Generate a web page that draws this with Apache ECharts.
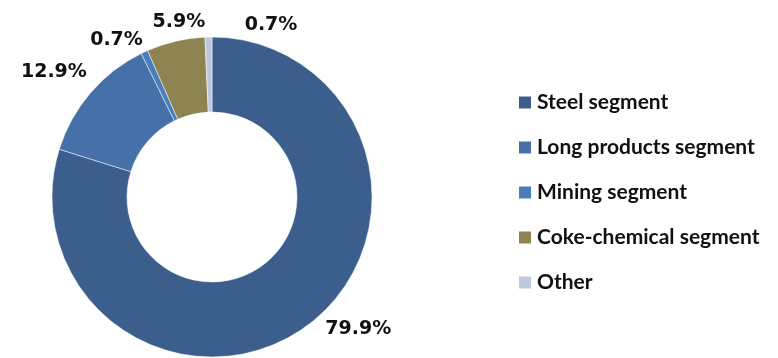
<!DOCTYPE html>
<html>
<head>
<meta charset="utf-8">
<script src="https://cdn.jsdelivr.net/npm/echarts@6/dist/echarts.min.js"></script>
<style>
  html, body { margin: 0; padding: 0; background: #ffffff; }
  #chart { width: 778px; height: 358px; }
</style>
</head>
<body>
<div id="chart"></div>
<script>
// Segment shares (%), drawn clockwise from 12 o'clock
const segments = ['Steel segment', 'Long products segment', 'Mining segment', 'Coke-chemical segment', 'Other'];
const shares = [79.9, 12.9, 0.7, 5.9, 0.7];
const colors = ['#3B5E8C', '#4571A8', '#4A7EBB', '#8D8452', '#BCC9E0'];

// Small nudges so the crowded percentage labels near the top don't collide
const labelNudge = [[-4, -2], [20, -17], [20, -6], [50, -13], [108, -6]];

const chart = echarts.init(document.getElementById('chart'), null, { renderer: 'canvas' });

chart.setOption({
  animation: false,
  backgroundColor: '#ffffff',
  color: colors,
  legend: {
    orient: 'vertical',
    left: 512,
    top: 87,
    itemWidth: 14,
    itemHeight: 14,
    itemGap: 24,
    icon: 'rect',
    textStyle: { fontFamily: 'Lato', fontWeight: 'bold', fontSize: 21, color: '#111111' },
    data: segments
  },
  series: [{
    type: 'pie',
    center: [212, 197],
    radius: [85, 160],
    startAngle: 90,
    clockwise: true,
    avoidLabelOverlap: false,
    label: {
      show: true,
      position: 'outside',
      formatter: (p) => p.value.toFixed(1) + '%',
      fontFamily: 'DejaVu Sans',
      fontWeight: 'bold',
      fontSize: 19,
      color: '#111111'
    },
    labelLine: { show: false, length: 6, length2: 14 },
    labelLayout: (p) => ({
      hideOverlap: false,
      dx: labelNudge[p.dataIndex][0],
      dy: labelNudge[p.dataIndex][1]
    }),
    itemStyle: { borderColor: '#ffffff', borderWidth: 0.5 },
    data: segments.map((name, i) => ({ name, value: shares[i] }))
  }]
});
</script>
</body>
</html>
